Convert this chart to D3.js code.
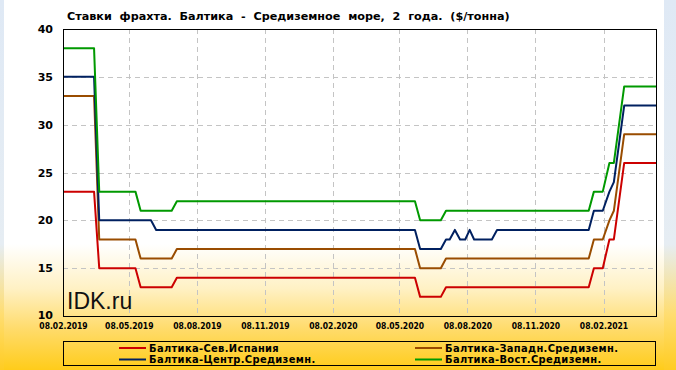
<!doctype html>
<html>
<head>
    <meta charset="utf-8">
    <title>Ставки фрахта</title>
    <script src="https://d3js.org/d3.v7.min.js"></script>
    <style type="text/css">
        html, body { margin: 0; padding: 0; background: #fff; }
        svg { display: block; }
        .ttl { font-family: "DejaVu Sans", Verdana, sans-serif; font-weight: bold; font-size: 11.2px; white-space: pre; }
        .yax text { font-family: "DejaVu Sans", Verdana, sans-serif; font-weight: bold; font-size: 11px; }
        .xax text { font-family: "DejaVu Sans Condensed", "DejaVu Sans", sans-serif; font-stretch: condensed; font-weight: bold; font-size: 8.5px; }
        .leg text { font-family: "DejaVu Sans Condensed", "DejaVu Sans", sans-serif; font-stretch: condensed; font-weight: bold; font-size: 11px; letter-spacing: 0.35px; }
    </style>
</head>
<body>
<svg id="chart" width="676" height="370"></svg>

<script type="text/javascript">
    // значения (дата, $/тонна)
    var spain = [
        ["2019-02-08", 23], ["2019-03-22", 23], ["2019-03-29", 15], ["2019-05-17", 15],
        ["2019-05-24", 13], ["2019-07-05", 13], ["2019-07-12", 14], ["2020-05-29", 14],
        ["2020-06-05", 12], ["2020-07-03", 12], ["2020-07-10", 13], ["2021-01-19", 13],
        ["2021-01-26", 15], ["2021-02-07", 15], ["2021-02-16", 18], ["2021-02-22", 18],
        ["2021-03-08", 26], ["2021-04-20", 26]
    ];
    var west = [
        ["2019-02-08", 33], ["2019-03-22", 33], ["2019-03-29", 18], ["2019-05-17", 18],
        ["2019-05-24", 16], ["2019-07-05", 16], ["2019-07-12", 17], ["2020-05-29", 17],
        ["2020-06-05", 15], ["2020-07-03", 15], ["2020-07-10", 16], ["2021-01-19", 16],
        ["2021-01-26", 18], ["2021-02-07", 18], ["2021-02-16", 20], ["2021-02-22", 21],
        ["2021-03-08", 29], ["2021-04-20", 29]
    ];
    var central = [
        ["2019-02-08", 35], ["2019-03-22", 35], ["2019-03-29", 20], ["2019-06-07", 20],
        ["2019-06-14", 19], ["2020-05-29", 19], ["2020-06-05", 17], ["2020-07-03", 17],
        ["2020-07-10", 18], ["2020-07-15", 18], ["2020-07-22", 19], ["2020-07-29", 18],
        ["2020-08-05", 18], ["2020-08-11", 19], ["2020-08-17", 18], ["2020-09-10", 18],
        ["2020-09-17", 19], ["2021-01-19", 19], ["2021-01-26", 21], ["2021-02-07", 21],
        ["2021-02-16", 23], ["2021-02-22", 24], ["2021-03-08", 32], ["2021-04-20", 32]
    ];
    var east = [
        ["2019-02-08", 38], ["2019-03-22", 38], ["2019-03-29", 23], ["2019-05-17", 23],
        ["2019-05-24", 21], ["2019-07-05", 21], ["2019-07-12", 22], ["2020-05-29", 22],
        ["2020-06-05", 20], ["2020-07-03", 20], ["2020-07-10", 21], ["2021-01-19", 21],
        ["2021-01-26", 23], ["2021-02-07", 23], ["2021-02-16", 26], ["2021-02-22", 26],
        ["2021-03-08", 34], ["2021-04-20", 34]
    ];

    var seriesNames = ["Балтика-Сев.Испания", "Балтика-Западн.Средиземн.",
                       "Балтика-Центр.Средиземн.", "Балтика-Вост.Средиземн."];
    var seriesData = [spain, west, central, east];
    var seriesColors = ["#cc0000", "#994c00", "#002060", "#009900"];

    var xTicks = ["2019-02-08", "2019-05-08", "2019-08-08", "2019-11-08", "2020-02-08",
                  "2020-05-08", "2020-08-08", "2020-11-08", "2021-02-08"];
    var yTicks = [10, 15, 20, 25, 30, 35, 40];
    var xDomain = ["2019-02-08", "2021-04-20"];

    var title = "Ставки  фрахта.  Балтика  -  Средиземное  море,  2  года.  ($/тонна)";

    var parse = d3.utcParse("%Y-%m-%d");
    var fmt = d3.utcFormat("%d.%m.%Y");

    var W = 676, H = 370;
    var pL = 63, pR = 656, pT = 29, pB = 316;

    var svg = d3.select("#chart");
    var defs = svg.append("defs");

    var g1 = defs.append("linearGradient").attr("id", "bgOuter")
        .attr("x1", 0).attr("y1", 0).attr("x2", 0).attr("y2", 1);
    g1.append("stop").attr("offset", 0).attr("stop-color", "#dfe9f5");
    g1.append("stop").attr("offset", 0.66).attr("stop-color", "#e6edf3");
    g1.append("stop").attr("offset", 0.85).attr("stop-color", "#ffdd70");
    g1.append("stop").attr("offset", 1).attr("stop-color", "#ffcc22");

    var g2 = defs.append("linearGradient").attr("id", "bgInner")
        .attr("x1", 0).attr("y1", 0).attr("x2", 0).attr("y2", 1);
    g2.append("stop").attr("offset", 0).attr("stop-color", "#ffffff");
    g2.append("stop").attr("offset", 0.66).attr("stop-color", "#ffffff");
    g2.append("stop").attr("offset", 0.78).attr("stop-color", "#fff1c4");
    g2.append("stop").attr("offset", 0.89).attr("stop-color", "#ffdb6a");
    g2.append("stop").attr("offset", 1).attr("stop-color", "#ffcc1a");

    svg.append("rect").attr("width", W).attr("height", H).attr("fill", "url(#bgOuter)");
    svg.append("rect").attr("x", 4).attr("y", 0).attr("width", 660).attr("height", H)
        .attr("fill", "url(#bgInner)");

    var x = d3.scaleUtc().domain(xDomain.map(parse)).range([pL, pR]);
    var y = d3.scaleLinear().domain([10, 40]).range([pB, pT]);

    // сетка
    svg.append("g").selectAll("line")
        .data(yTicks.filter(function(v){ return v > 10 && v < 40; }))
        .enter().append("line")
        .attr("x1", pL).attr("x2", pR)
        .attr("y1", function(d){ return Math.round(y(d)) + 0.5; })
        .attr("y2", function(d){ return Math.round(y(d)) + 0.5; })
        .attr("stroke", "#c4c4c4").attr("stroke-dasharray", "5,4");

    svg.append("g").selectAll("line")
        .data(xTicks.slice(1).map(parse))
        .enter().append("line")
        .attr("x1", function(d){ return Math.round(x(d)) + 0.5; })
        .attr("x2", function(d){ return Math.round(x(d)) + 0.5; })
        .attr("y1", pT).attr("y2", pB)
        .attr("stroke", "#c4c4c4").attr("stroke-dasharray", "5,4");

    // оси
    var yAxis = svg.append("g").attr("class", "yax")
        .attr("transform", "translate(" + pL + ",0)")
        .call(d3.axisLeft(y).tickValues(yTicks).tickSize(0).tickPadding(10));
    yAxis.select(".domain").remove();
    // нижняя подпись «10» чуть выше, как в оригинале
    yAxis.selectAll("text").attr("fill", "#000")
        .attr("dy", function(d){ return d === 10 ? "0.2em" : "0.32em"; });

    var xAxis = svg.append("g").attr("class", "xax")
        .attr("transform", "translate(0," + pB + ")")
        .call(d3.axisBottom(x).tickValues(xTicks.map(parse)).tickSize(0).tickPadding(7)
            .tickFormat(fmt));
    xAxis.select(".domain").remove();
    xAxis.selectAll("text").attr("fill", "#000");

    // водяной знак
    svg.append("text").attr("x", 67).attr("y", 309)
        .attr("font-family", "'Liberation Sans', Arial, sans-serif")
        .attr("font-size", 23).attr("fill", "#111")
        .text("IDK.ru");

    // линии
    var line = d3.line()
        .x(function(d){ return x(parse(d[0])); })
        .y(function(d){ return y(d[1]); });

    svg.append("g").selectAll("path")
        .data(seriesData)
        .enter().append("path")
        .attr("d", line)
        .attr("fill", "none")
        .attr("stroke", function(d, i){ return seriesColors[i]; })
        .attr("stroke-width", 2)
        .attr("stroke-linejoin", "round");

    // рамка
    svg.append("rect")
        .attr("x", pL + 0.5).attr("y", pT + 0.5)
        .attr("width", pR - pL).attr("height", pB - pT)
        .attr("fill", "none").attr("stroke", "#000").attr("stroke-width", 1);

    // заголовок
    svg.append("text").attr("class", "ttl")
        .attr("x", 67).attr("y", 20)
        .text(title);

    // легенда
    var leg = svg.append("g").attr("class", "leg");
    leg.append("rect").attr("x", 63.5).attr("y", 341.5).attr("width", 592).attr("height", 24)
        .attr("fill", "none").attr("stroke", "#000");

    var legPos = [[119, 348], [415, 348], [119, 359.5], [415, 359.5]];
    seriesNames.forEach(function(name, i){
        var p = legPos[i];
        leg.append("line").attr("x1", p[0]).attr("x2", p[0] + 27)
            .attr("y1", p[1]).attr("y2", p[1])
            .attr("stroke", seriesColors[i]).attr("stroke-width", 2);
        leg.append("text").attr("x", p[0] + 30).attr("y", p[1]).attr("dy", "0.35em")
            .text(name);
    });
</script>
</body>
</html>
